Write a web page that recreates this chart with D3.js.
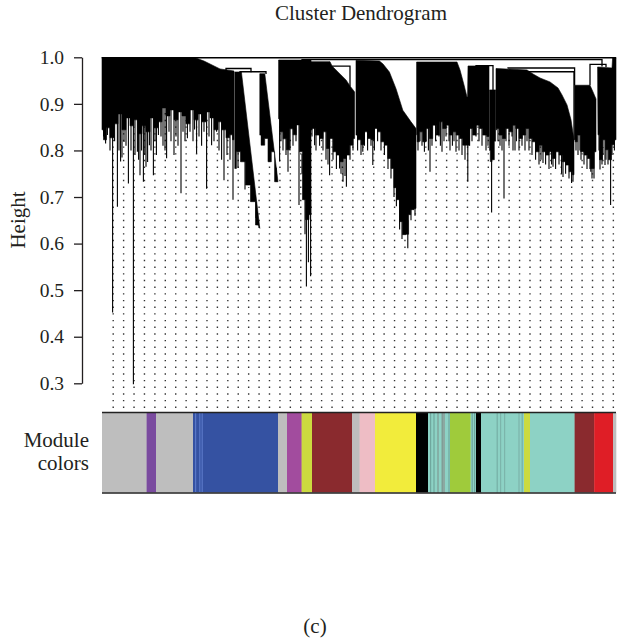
<!DOCTYPE html>
<html><head><meta charset="utf-8">
<script src="https://cdn.jsdelivr.net/npm/d3@7"></script>
<style>body{margin:0;background:#fff}svg{display:block}</style>
</head><body>
<svg id="chart" width="619" height="639"></svg>
<script>
// ---------------- data ----------------
const nLeaves = 2570;
const yTickValues = [0.3, 0.4, 0.5, 0.6, 0.7, 0.8, 0.9, 1.0];

const branchRoofs = [
  [[0,0.999],[470,0.9985],[510,0.992],[550,0.9835],[590,0.975],[660,0.9706]],
  [[664,0.9685],[697,0.9685],[789,0.6327]],
  [[789,0.9649],[814,0.9649],[880,0.7328]],
  [[883,0.9942],[1045,0.9942]],
  [[1045,0.9906],[1140,0.9906],[1150,0.9814],[1170,0.9728],[1195,0.9621],[1220,0.9514],[1240,0.9385],[1263,0.9257]],
  [[1270,0.9936],[1387,0.9921],[1405,0.9857],[1437,0.9685],[1470,0.9327],[1504,0.8864],[1545,0.8614],[1570,0.847]],
  [[1573,0.9899],[1775,0.9899],[1790,0.9728],[1810,0.9406],[1825,0.9149],[1828,0.9149],[1830,0.9814],[1935,0.9814]],
  [[1938,0.93],[1968,0.93]],
  [[1970,0.976],[2125,0.9728],[2155,0.9642],[2190,0.9556],[2240,0.9471],[2280,0.9342],[2300,0.9192],[2325,0.8978],[2345,0.8657],[2360,0.8228]],
  [[2363,0.94],[2440,0.94],[2455,0.9257],[2470,0.9106]],
  [[2478,0.9792],[2550,0.9771],[2553,0.9985],[2570,0.9985]]
];
const branchBottoms = [
  [[660,0.8228],[645,0.8335],[630,0.8271],[610,0.8442],[590,0.8614],[570,0.8442],[550,0.8699],[530,0.8828],[510,0.8614],[490,0.8785],[470,0.8657],[450,0.8871],[430,0.8571],[410,0.8742],[390,0.8828],[370,0.8657],[350,0.8871],[330,0.8742],[310,0.8914],[290,0.8614],[270,0.8485],[250,0.8699],[230,0.8399],[210,0.8528],[190,0.8357],[170,0.8657],[150,0.8528],[130,0.8699],[110,0.8442],[90,0.8785],[70,0.8571],[50,0.8271],[30,0.8485],[15,0.8228],[0,0.8442]],
  [[780,0.640],[755,0.690],[730,0.7257],[705,0.7757],[680,0.7971],[664,0.7613]],
  [[871,0.7328],[855,0.7971],[838,0.7757],[822,0.8256],[805,0.8114],[789,0.8329]],
  [[1045,0.6621],[1025,0.6514],[1010,0.6942],[995,0.7971],[980,0.8549],[964,0.8335],[947,0.8464],[930,0.8014],[914,0.8249],[897,0.8399],[883,0.8678]],
  [[1263,0.8256],[1247,0.8114],[1230,0.79],[1214,0.7827],[1197,0.7757],[1180,0.79],[1164,0.7971],[1147,0.8256],[1130,0.8042],[1114,0.8399],[1097,0.8256],[1080,0.8329],[1055,0.847],[1045,0.8442]],
  [[1570,0.6756],[1550,0.6728],[1537,0.6621],[1529,0.62],[1510,0.6192],[1495,0.6471],[1480,0.6942],[1465,0.72],[1454,0.7613],[1437,0.7827],[1420,0.8114],[1404,0.8185],[1387,0.8399],[1370,0.847],[1354,0.8228],[1337,0.8256],[1320,0.8399],[1304,0.8121],[1287,0.8228],[1270,0.8329]],
  [[1935,0.83],[1912,0.8329],[1895,0.847],[1879,0.8543],[1862,0.8329],[1845,0.847],[1829,0.8114],[1812,0.8114],[1795,0.8256],[1779,0.8329],[1762,0.8399],[1745,0.8329],[1729,0.8543],[1712,0.847],[1695,0.8614],[1679,0.8329],[1662,0.8543],[1645,0.8256],[1629,0.847],[1612,0.8185],[1595,0.8399],[1579,0.8185],[1573,0.8335]],
  [[1968,0.82],[1955,0.78],[1945,0.776],[1938,0.80]],
  [[2360,0.7478],[2344,0.7542],[2327,0.7686],[2310,0.7757],[2294,0.79],[2277,0.7971],[2260,0.7827],[2244,0.7971],[2227,0.79],[2210,0.7971],[2194,0.8114],[2177,0.7971],[2160,0.8185],[2144,0.8256],[2127,0.847],[2110,0.8329],[2094,0.8256],[2077,0.847],[2060,0.8543],[2044,0.8399],[2027,0.847],[2010,0.8256],[1994,0.8329],[1977,0.847],[1970,0.8442]],
  [[2470,0.7971],[2452,0.7613],[2435,0.7827],[2419,0.79],[2402,0.7971],[2385,0.8329],[2369,0.8185],[2363,0.8228]],
  [[2570,0.8228],[2555,0.8121],[2540,0.7799],[2525,0.8014],[2510,0.8228],[2495,0.7799],[2480,0.8335]]
];
// long leaves hanging under the dense branches: [leaf order, leaf height]
const leafSpikes = [
  [8,0.83],[18,0.815],[27,0.833],[40,0.80],[53,0.452],[63,0.82],[77,0.679],[85,0.80],[93,0.776],[100,0.785],[110,0.818],[120,0.81],[132,0.729],[145,0.80],[157,0.298],[165,0.79],[177,0.797],[183,0.78],[190,0.747],[198,0.80],[207,0.733],[214,0.79],[220,0.765],[228,0.775],[237,0.811],[245,0.80],[257,0.747],[265,0.82],[272,0.79],[282,0.833],[295,0.83],[305,0.81],[315,0.80],[323,0.783],[335,0.84],[345,0.82],[360,0.790],[370,0.83],[380,0.81],[395,0.708],[405,0.84],[415,0.82],[427,0.826],[440,0.84],[455,0.82],[463,0.845],[473,0.793],[485,0.83],[498,0.81],[510,0.84],[523,0.718],[535,0.83],[548,0.811],[560,0.82],[573,0.840],[585,0.80],[598,0.78],[610,0.736],[625,0.79],[640,0.78],[655,0.694],
  [680,0.763],[715,0.716],[770,0.655],
  [797,0.811],[838,0.776],[871,0.733],
  [888,0.776],[895,0.82],[905,0.80],[920,0.79],[930,0.754],[940,0.80],[955,0.81],[970,0.82],[985,0.683],[1000,0.75],[1015,0.62],[1022,0.508],[1032,0.56],[1043,0.53],
  [1050,0.83],[1063,0.811],[1070,0.80],[1088,0.81],[1105,0.80],[1120,0.78],[1130,0.77],[1138,0.747],[1155,0.78],[1172,0.76],[1188,0.761],[1195,0.75],[1205,0.733],[1215,0.745],[1222,0.722],[1240,0.78],[1255,0.80],
  [1278,0.80],[1295,0.79],[1304,0.797],[1312,0.81],[1328,0.80],[1345,0.81],[1354,0.769],[1362,0.80],[1378,0.82],[1395,0.80],[1412,0.79],[1430,0.76],[1445,0.74],[1460,0.70],[1472,0.68],[1488,0.63],[1500,0.61],[1515,0.63],[1529,0.590],[1545,0.65],[1560,0.675],[1565,0.66],
  [1580,0.80],[1590,0.82],[1600,0.81],[1612,0.797],[1620,0.82],[1632,0.80],[1640,0.754],[1650,0.81],[1668,0.82],[1685,0.83],[1692,0.81],[1700,0.797],[1710,0.82],[1720,0.83],[1735,0.82],[1740,0.80],[1752,0.81],[1760,0.82],[1770,0.797],[1785,0.80],[1800,0.79],[1815,0.78],[1829,0.733],[1838,0.81],[1850,0.82],[1870,0.83],[1885,0.82],[1900,0.81],[1920,0.80],[1930,0.81],
  [1948,0.667],
  [1980,0.82],[1990,0.81],[2000,0.80],[2010,0.697],[2020,0.82],[2035,0.81],[2050,0.83],[2055,0.80],[2065,0.80],[2072,0.82],[2085,0.80],[2100,0.81],[2115,0.80],[2125,0.82],[2135,0.80],[2150,0.79],[2168,0.78],[2185,0.77],[2195,0.78],[2205,0.773],[2218,0.77],[2235,0.76],[2248,0.77],[2255,0.765],[2268,0.76],[2285,0.77],[2298,0.75],[2305,0.743],[2318,0.75],[2335,0.74],[2348,0.73],[2355,0.733],
  [2370,0.80],[2380,0.79],[2390,0.80],[2395,0.78],[2410,0.77],[2425,0.76],[2440,0.76],[2444,0.754],[2450,0.74],[2460,0.74],
  [2485,0.80],[2490,0.759],[2500,0.77],[2505,0.79],[2515,0.769],[2520,0.78],[2530,0.77],[2543,0.683],[2550,0.79],[2562,0.80]
];
const merges = [
  [1,0.998,2568,0.998,0.999],
  [1000,0.99,2500,0.98,0.995],
  [620,0.972,745,0.968,0.976],
  [690,0.968,820,0.964,0.969],
  [1150,0.98,1240,0.938,0.981],
  [2030,0.976,2363,0.94,0.977],
  [2000,0.969,2360,0.823,0.969],
  [2440,0.94,2520,0.979,0.985],
  [1870,0.981,1955,0.93,0.982]
];
const moduleBounds = [0,223,270,455,880,925,998,1050,1250,1288,1365,1570,1630,1740,1843,1870,1895,2110,2140,2363,2461,2555,2570];
const moduleColors = ["#bebebe","#7a4b9f","#bebebe","#3552a2","#bebebe","#a24c9e","#ccda3f","#8a2a2e","#bebebe","#eebdc5","#f2ec3b","#000000","#8dd2c5","#9fcb3b","#8dd2c5","#000000","#8dd2c5","#ccda3f","#8dd2c5","#8a2a2e","#df1e26","#bebebe"];
const streakLeaves = [465,486,498,1640,1657,1677,1698,1707,1732,1848,1860,1973,1990,2010,2082,2098];
const streakColors = ["#5a78c8","#5a78c8","#5a78c8","#6fa79e","#6fa79e","#7f9a94","#7e8f8a","#8a8f8c","#6fa79e","#6fa79e","#6fa79e","#76b0a6","#7cb5ab","#7cb5ab","#7cb5ab","#76b0a6"];

// ---------------- drawing ----------------
const ink = "#231f20";
const font = "Liberation Serif";
const svg = d3.select("#chart");
const x = d3.scaleLinear().domain([0, nLeaves]).range([102, 616]);
const y = d3.scaleLinear().domain([0.3, 1.0]).range([383.3, 57.3]);
const hBottom = y.invert(408);

const allBottom = branchBottoms.flat().slice().sort((a,b)=>a[0]-b[0]);
const bottomScale = d3.scaleLinear().domain(allBottom.map(d=>d[0])).range(allBottom.map(d=>d[1]));
const guideLeaves = d3.range(49).map(k => 56 + k * 52.1);
svg.append("g").selectAll("path").data(guideLeaves).join("path")
  .attr("d", g => `M${x(g)},${y(hBottom)}V${y(bottomScale(g))}`)
  .attr("stroke", "#333").attr("stroke-width", 1.4)
  .attr("stroke-dasharray", "1.4 5.27").attr("fill", "none");

const lineLin = d3.line().x(d => x(d[0])).y(d => y(d[1]));
const lineStep = d3.line().x(d => x(d[0])).y(d => y(d[1])).curve(d3.curveStep);
const dend = svg.append("g");
dend.selectAll("path.body").data(branchRoofs).join("path").attr("class","body")
  .attr("d", (roof, i) => lineLin(roof) + lineStep(branchBottoms[i]).replace(/^M/, "L") + "Z")
  .attr("fill", "#000").attr("stroke", "#000").attr("stroke-width", 0.6);
dend.selectAll("line.spike").data(leafSpikes).join("line").attr("class","spike")
  .attr("x1", d => x(d[0])).attr("x2", d => x(d[0]))
  .attr("y1", d => y(bottomScale(d[0]) + 0.03)).attr("y2", d => y(d[1]))
  .attr("stroke", "#000").attr("stroke-width", 1.1);
dend.selectAll("path.merge").data(merges).join("path").attr("class","merge")
  .attr("d", d => `M${x(d[0])},${y(d[1])}V${y(d[4])}H${x(d[2])}V${y(d[3])}`)
  .attr("fill", "none").attr("stroke", "#000").attr("stroke-width", 1.3);

const axis = d3.axisLeft(y).tickValues(yTickValues).tickFormat(d3.format(".1f"))
  .tickSize(8).tickSizeOuter(0).tickPadding(10);
const ax = svg.append("g").attr("transform", "translate(82,0)").call(axis);
ax.attr("font-family", font).attr("font-size", 19.5);
ax.selectAll("path,line").attr("stroke", ink).attr("stroke-width", 1.3);
ax.selectAll("text").attr("fill", ink);

svg.append("text").attr("transform", "translate(25,220) rotate(-90)")
  .attr("text-anchor", "middle").attr("fill", ink)
  .attr("font-family", font).attr("font-size", 21).text("Height");

svg.append("text").attr("x", 361).attr("y", 20).attr("text-anchor", "middle").attr("fill", ink)
  .attr("font-family", font).attr("font-size", 21).text("Cluster Dendrogram");

const bar = svg.append("g");
const segs = moduleColors.map((c, i) => ({c, a: moduleBounds[i], b: moduleBounds[i+1]}));
bar.selectAll("rect.mod").data(segs).join("rect").attr("class","mod")
  .attr("x", d => x(d.a)).attr("width", d => x(d.b) - x(d.a) + 0.3)
  .attr("y", 413).attr("height", 79.5).attr("fill", d => d.c);
bar.selectAll("rect.streak").data(streakLeaves).join("rect").attr("class","streak")
  .attr("x", d => x(d)).attr("width", 1.2)
  .attr("y", 413).attr("height", 79.5).attr("fill", (d, i) => streakColors[i]);
[412.5, 493].forEach(yy => bar.append("line").attr("x1", x(0)).attr("x2", x(nLeaves))
  .attr("y1", yy).attr("y2", yy).attr("stroke", "#222").attr("stroke-width", 1.5));

svg.append("text").attr("x", 89).attr("y", 446.5).attr("text-anchor", "end").attr("fill", ink)
  .attr("font-family", font).attr("font-size", 21).text("Module");
svg.append("text").attr("x", 89).attr("y", 469.5).attr("text-anchor", "end").attr("fill", ink)
  .attr("font-family", font).attr("font-size", 21).text("colors");

svg.append("text").attr("x", 315).attr("y", 633).attr("text-anchor", "middle").attr("fill", ink)
  .attr("font-family", font).attr("font-size", 21).text("(c)");
</script>
</body></html>
